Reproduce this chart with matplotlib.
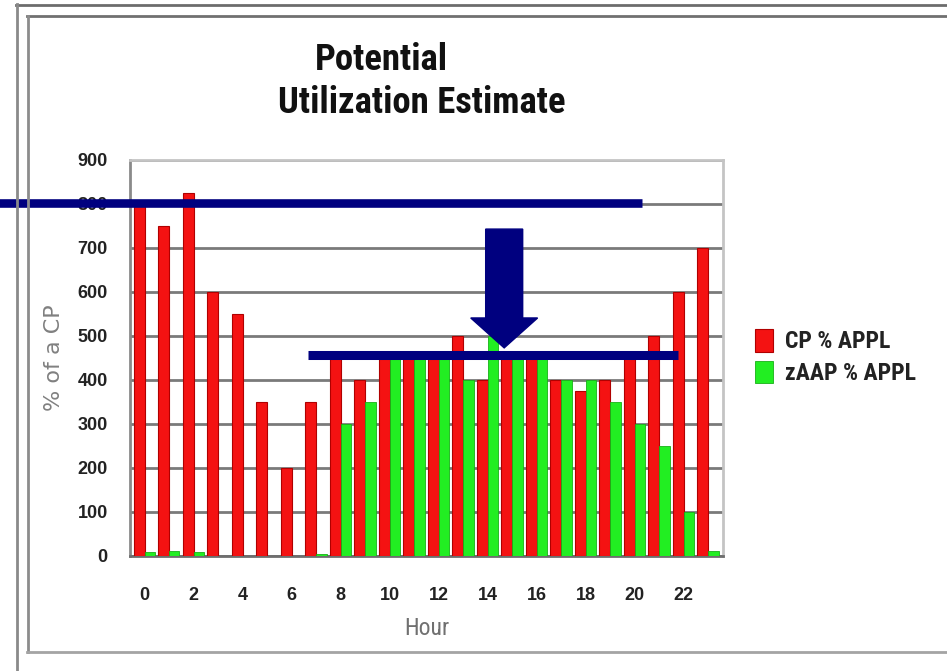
import matplotlib

matplotlib.use("Agg")
import matplotlib.pyplot as plt
import numpy as np
from matplotlib import font_manager as fm
from matplotlib.lines import Line2D
from matplotlib.patches import FancyArrow

# hourly utilisation, % of a CP
hours = np.arange(24)
cp_appl = [800, 750, 825, 600, 550, 350, 200, 350, 450, 400, 450, 450,
           450, 500, 400, 450, 450, 400, 375, 400, 450, 500, 600, 700]
zaap_appl = [10, 12, 8, 0, 0, 0, 0, 5, 300, 350, 450, 450,
             450, 400, 500, 450, 450, 400, 400, 350, 300, 250, 100, 12]
hour_ticks = list(range(0, 24, 2))
y_ticks = list(range(0, 1000, 100))

# overlay: current peak, target level, and the arrow between them
peak_level = 803
target_level = 457

RED = "#F41212"
GREEN = "#22EE22"
NAVY = "#00007F"
PLAIN = ["Liberation Sans", "DejaVu Sans"]

# a condensed face if one is installed, else plain Arial-metric text set a bit smaller
_names = {f.name for f in fm.fontManager.ttflist}
_narrow = next((n for n in ["Liberation Sans Narrow", "Arial Narrow", "Roboto Condensed",
                            "DejaVu Sans Condensed", "Open Sans Condensed"] if n in _names), None)
if _narrow:
    NARROW = [_narrow, "DejaVu Sans"]
    K = 1.0
else:
    NARROW = PLAIN
    K = 0.88

W, H = 947, 671
fig = plt.figure(figsize=(W / 100, H / 100), dpi=100)
fig.patch.set_facecolor("white")


def px(x, y):
    return x / W, 1 - y / H


# picture frame
for (x0, y0), (x1, y1), col in [
    ((16, 4.5), (W, 4.5), "#6c6c6c"),
    ((17, 4), (17, H), "#8a8a8a"),
    ((27, 16), (W, 16), "#707070"),
    ((28, 16), (28, 652), "#8c8c8c"),
    ((27, 652), (W, 652), "#a4a4a4"),
]:
    a, b = px(x0, y0)
    c, d = px(x1, y1)
    fig.add_artist(Line2D([a, c], [b, d], color=col, lw=2.0, transform=fig.transFigure))

ax = fig.add_axes([130 / W, 1 - 556 / H, (723 - 130) / W, (556 - 160) / H])

ax.bar(hours - 0.225, cp_appl, 0.45, color=RED, edgecolor="#B00000", linewidth=0.8,
       label="CP % APPL", zorder=3)
ax.bar(hours + 0.21, zaap_appl, 0.42, color=GREEN, edgecolor="#18B018", linewidth=0.6,
       label="zAAP % APPL", zorder=3)

ax.set_xlim(-0.6, 23.6)
ax.set_ylim(0, 900)
ax.set_xticks(hour_ticks)
ax.set_yticks(y_ticks)
ax.tick_params(length=0, colors="#222222")
ax.tick_params(axis="y", pad=16)
ax.tick_params(axis="x", pad=22)
for lab in ax.get_xticklabels() + ax.get_yticklabels():
    lab.set_family(PLAIN)
    lab.set_fontweight("bold")
    lab.set_fontsize(13)

ax.yaxis.grid(True, color="#7a7a7a", lw=2.0, zorder=1)
ax.set_axisbelow(True)
for side, col in [("left", "#8a8a8a"), ("bottom", "#6e6e6e"), ("top", "#c4c4c4"), ("right", "#c4c4c4")]:
    ax.spines[side].set_color(col)
    ax.spines[side].set_linewidth(2.0)

ax.set_ylabel("% of a CP", family=["DejaVu Sans"], fontsize=16, color="#808080", labelpad=10)
ax.set_xlabel("Hour", family=NARROW, fontsize=17 * K, color="#707070", labelpad=10)

# blue guide lines and arrow
ax.plot([-5.95, 20.3], [peak_level, peak_level], color=NAVY, lw=6.2, solid_capstyle="butt",
        clip_on=False, zorder=5)
ax.plot([6.65, 21.75], [target_level, target_level], color=NAVY, lw=6.5, solid_capstyle="butt",
        clip_on=False, zorder=5)
ax.add_patch(FancyArrow(14.67, 743, 0, target_level + 16 - 743, width=1.51, head_width=2.73,
                        head_length=68, length_includes_head=True, color=NAVY, zorder=6))

fig.text(*px(381, 60), "Potential", family=NARROW, fontsize=26.5 * K, color="#111111",
         ha="center", va="center", fontweight="bold")
fig.text(*px(422, 103), "Utilization Estimate", family=NARROW, fontsize=26.5 * K, color="#111111",
         ha="center", va="center", fontweight="bold")

fig.legend(loc="center left", bbox_to_anchor=px(755, 357), frameon=False,
           prop={"family": NARROW, "size": 17 * K, "weight": "bold"},
           handlelength=0.76 / K, handleheight=1.1 / K,
           handletextpad=0.5, labelspacing=0.3, borderpad=0, borderaxespad=0,
           labelcolor="#222222")

fig.savefig("out.png", dpi=100)
